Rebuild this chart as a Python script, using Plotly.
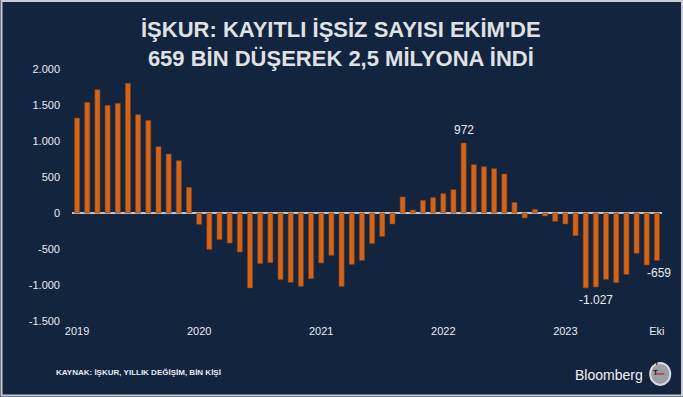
import plotly.graph_objects as go

# Monthly annual change in registered unemployed (thousand people), Jan 2019 - Oct 2023
months = [f"{y}-{m:02d}" for y in range(2019, 2024) for m in range(1, 13)][:58]
values = [
    1319, 1537, 1713, 1495, 1523, 1801, 1366, 1287, 921, 819, 727, 356,
    -157, -505, -370, -417, -542, -1042, -704, -690, -926, -963, -1019, -912,
    -694, -588, -1019, -713, -657, -426, -324, -153, 222, 42, 176, 213,
    269, 324, 972, 671, 644, 616, 542, 148, -69, 51, -42, -116,
    -153, -315, -1040, -1027, -921, -968, -852, -560, -722, -659,
]
x_tick_vals = ["2019-01", "2020-01", "2021-01", "2022-01", "2023-01", "2023-10"]
x_tick_text = ["2019", "2020", "2021", "2022", "2023", "Eki"]
y_tick_vals = [-1500, -1000, -500, 0, 500, 1000, 1500, 2000]
y_tick_text = ["-1.500", "-1.000", "-500", "0", "500", "1.000", "1.500", "2.000"]
labels = {"2022-03": "972", "2023-04": "-1.027", "2023-10": "-659"}

BG = "#13243f"
TXT = "#e9ebef"

fig = go.Figure()
fig.add_trace(go.Bar(
    x=months, y=values, width=0.5,
    marker=dict(color="#d2651c", line=dict(color="#8f3f0c", width=0.6)),
    hoverinfo="x+y",
))

for m, t in labels.items():
    v = values[months.index(m)]
    fig.add_annotation(
        x=m, y=v, text=t, showarrow=False,
        yshift=13 if v > 0 else -13, xshift=2 if m == "2023-10" else 0,
        font=dict(family="Liberation Sans, Arial", size=12, color=TXT),
    )

fig.update_layout(
    width=683, height=397,
    paper_bgcolor=BG, plot_bgcolor=BG,
    margin=dict(l=72, r=21, t=69, b=76),
    showlegend=False,
    bargap=0.5,
    xaxis=dict(
        type="category", categoryorder="array", categoryarray=months,
        range=[-0.5, 57.5], tickmode="array", tickvals=x_tick_vals, ticktext=x_tick_text,
        showgrid=False, showline=False, ticks="",
        tickfont=dict(family="Liberation Sans, Arial", size=11, color=TXT),
        ticklabelstandoff=2,
    ),
    yaxis=dict(
        range=[-1500, 2000], tickmode="array", tickvals=y_tick_vals, ticktext=y_tick_text,
        showgrid=False, zeroline=True, zerolinecolor="#b9c5d6", zerolinewidth=2,
        showline=False, ticks="", ticklabelstandoff=11,
        tickfont=dict(family="Liberation Sans, Arial", size=11, color=TXT),
    ),
)

# title
fig.add_annotation(xref="paper", yref="paper", x=0.5, y=1, xanchor="center", yanchor="bottom",
                   xshift=-26, yshift=-4,
                   text="İŞKUR: KAYITLI İŞSİZ SAYISI EKİM'DE<br>659 BİN DÜŞEREK 2,5 MİLYONA İNDİ",
                   showarrow=False, align="center",
                   font=dict(family="Liberation Sans, Arial", size=22, color="#dfe1e5", weight="bold"))
# footer
fig.add_annotation(xref="paper", yref="paper", x=-0.03, y=0, yshift=-51, xanchor="left", yanchor="middle",
                   text="<b>KAYNAK: İŞKUR, YILLIK DEĞİŞİM, BİN KİŞİ</b>", showarrow=False,
                   font=dict(family="Liberation Sans Narrow, Arial Narrow, Liberation Sans", size=8, color=TXT))
fig.add_annotation(xref="paper", yref="paper", x=0.972, y=0, yshift=-54, xanchor="right", yanchor="middle",
                   text="Bloomberg", showarrow=False,
                   font=dict(family="Liberation Sans, Arial", size=14, color="#f2f2f2"))
# logo circle
fig.add_shape(type="circle", xref="paper", yref="paper", xsizemode="pixel", ysizemode="pixel",
              xanchor=0.997, yanchor=-0.21, x0=-10, x1=10, y0=-11, y1=11, layer="below",
              fillcolor="#9a9ea5", line=dict(color="#d9dbde", width=2))
fig.add_shape(type="line", xref="paper", yref="paper", xsizemode="pixel", ysizemode="pixel",
              xanchor=0.997, yanchor=-0.21, x0=-4, x1=4, y0=0, y1=0, layer="below",
              line=dict(color="#c0392b", width=1.5))
fig.add_annotation(xref="paper", yref="paper", x=0.997, y=-0.21, yshift=5, text="<b>H</b>", showarrow=False,
                   font=dict(family="Liberation Sans, Arial", size=8, color="#1e1e1e"))
fig.add_annotation(xref="paper", yref="paper", x=0.997, y=-0.21, yshift=-5, text="<b>T</b>", showarrow=False,
                   font=dict(family="Liberation Sans, Arial", size=8, color="#1e1e1e"))
# frame
fig.add_shape(type="rect", xref="paper", yref="paper", x0=-0.1195, x1=1.0339, y0=-0.2956, y1=1.2698,
              line=dict(color="#c9cdd3", width=2), fillcolor="rgba(0,0,0,0)")

fig.write_html("out.html", post_script="document.body.style.margin='0';",
               config={"displayModeBar": False})
